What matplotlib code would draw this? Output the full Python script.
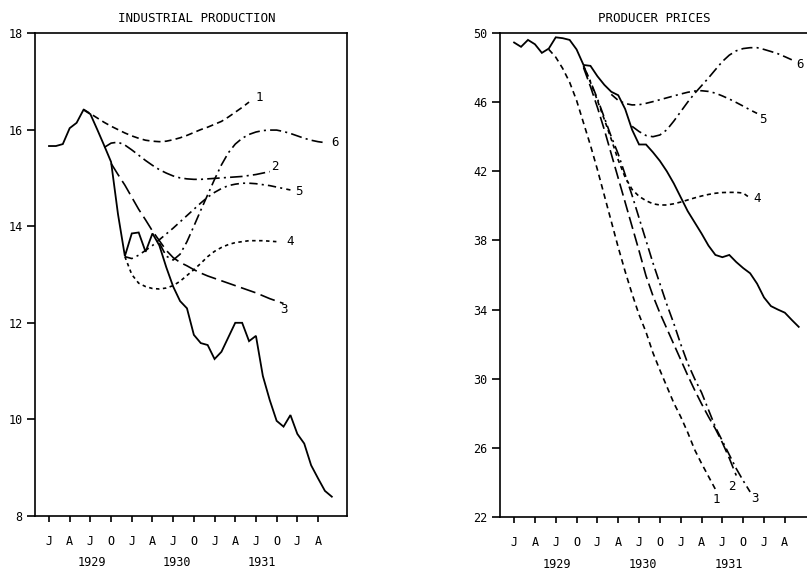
import numpy as np
import matplotlib
matplotlib.use('Agg')
import matplotlib.pyplot as plt

plt.rcParams['font.family'] = ['DejaVu Sans Mono']
plt.rcParams['lines.scale_dashes'] = False

# months counted from January 1929
month_labels = ['J', 'A', 'J', 'O'] * 4
year_labels = ['1929', '1930', '1931']

# industrial production, actual
ip_actual = [15.66, 15.66, 15.7, 16.03, 16.14, 16.41, 16.32, 16.0, 15.67, 15.33,
             14.25, 13.38, 13.85, 13.87, 13.47, 13.85, 13.6, 13.15, 12.75, 12.45,
             12.3, 11.75, 11.58, 11.54, 11.25, 11.4, 11.7, 12.0, 12.0, 11.62,
             11.73, 10.9, 10.4, 9.97, 9.85, 10.09, 9.7, 9.5, 9.05, 8.78,
             8.52, 8.4]

# industrial production, simulations (first month, values)
ip_start = [5, 8, 9, 11, 11, 16]
ip_sim1 = [16.42, 16.33, 16.24, 16.15, 16.07, 16.0, 15.93, 15.87, 15.82, 15.78,
           15.76, 15.75, 15.76, 15.79, 15.83, 15.88, 15.94, 16.0, 16.05, 16.11,
           16.17, 16.26, 16.36, 16.46, 16.57]
ip_sim2 = [15.63, 15.72, 15.74, 15.68, 15.58, 15.47, 15.36, 15.26, 15.17, 15.1,
           15.04, 15.0, 14.98, 14.97, 14.97, 14.98, 14.99, 15.0, 15.01, 15.02,
           15.03, 15.05, 15.07, 15.1, 15.13]
ip_sim3 = [15.3, 15.07, 14.85, 14.6, 14.35, 14.13, 13.9, 13.7, 13.5, 13.35,
           13.25, 13.18, 13.1, 13.03, 12.97, 12.92, 12.87, 12.82, 12.77, 12.72,
           12.67, 12.62, 12.56, 12.5, 12.45, 12.4]
ip_sim4 = [13.37, 13.0, 12.82, 12.75, 12.71, 12.7, 12.72, 12.77, 12.86, 12.98,
           13.1, 13.23, 13.37, 13.48, 13.56, 13.62, 13.66, 13.68, 13.7, 13.7,
           13.7, 13.69, 13.68]
ip_sim5 = [13.37, 13.33, 13.4, 13.5, 13.6, 13.72, 13.84, 13.96, 14.09, 14.22,
           14.35, 14.48, 14.6, 14.7, 14.78, 14.84, 14.87, 14.89, 14.89, 14.88,
           14.86, 14.84, 14.81, 14.78, 14.75]
ip_sim6 = [13.65, 13.38, 13.3, 13.42, 13.68, 14.0, 14.33, 14.65, 14.97, 15.27,
           15.52, 15.7, 15.82, 15.9, 15.95, 15.98, 15.99, 15.99, 15.96, 15.92,
           15.87, 15.82, 15.78, 15.75, 15.73]

# producer prices, actual
pp_actual = [49.45, 49.2, 49.6, 49.35, 48.85, 49.1, 49.75, 49.7, 49.6, 49.05,
             48.15, 48.1, 47.5, 47.0, 46.6, 46.4, 45.6, 44.4, 43.55, 43.55,
             43.1, 42.6, 42.0, 41.3, 40.5, 39.7, 39.05, 38.4, 37.7, 37.16,
             37.03, 37.16, 36.75, 36.4, 36.1, 35.5, 34.7, 34.2, 34.0, 33.82,
             33.4, 33.0]

# producer prices, simulations
pp_start = [5, 10, 10, 10, 14, 17]
pp_sim1 = [49.05, 48.6, 47.95, 47.15, 46.1, 44.8, 43.5, 42.1, 40.6, 39.1,
           37.6, 36.2, 34.9, 33.7, 32.7, 31.5, 30.5, 29.55, 28.6, 27.8,
           26.9, 25.9, 25.1, 24.35, 23.6]
pp_sim2 = [48.0, 46.9, 45.7, 44.4, 43.0, 41.6, 40.2, 38.8, 37.4, 35.95,
           34.8, 33.8, 32.9, 32.0, 31.1, 30.2, 29.35, 28.55, 27.8, 27.1,
           26.3, 25.4, 24.4]
pp_sim3 = [48.1, 47.2, 46.2, 45.1, 44.0, 43.0, 41.8, 40.6, 39.3, 38.0,
           36.7, 35.5, 34.3, 33.2, 32.0, 30.9, 30.0, 29.2, 28.2, 27.2,
           26.4, 25.6, 24.8, 24.1, 23.45]
pp_sim4 = [48.1, 47.15, 46.1, 45.0, 43.85, 42.65, 41.65, 40.95, 40.55, 40.3,
           40.12, 40.05, 40.05, 40.12, 40.22, 40.34, 40.46, 40.57, 40.66, 40.73,
           40.77, 40.78, 40.78, 40.74, 40.45]
pp_sim5 = [46.45, 46.1, 45.92, 45.84, 45.85, 45.93, 46.03, 46.14, 46.25, 46.36,
           46.47, 46.57, 46.64, 46.66, 46.62, 46.52, 46.36, 46.18, 45.98, 45.77,
           45.55, 45.35]
pp_sim6 = [44.6, 44.3, 44.07, 44.0, 44.1, 44.4, 44.9, 45.45, 46.0, 46.5,
           46.95, 47.4, 47.88, 48.35, 48.72, 48.97, 49.1, 49.15, 49.15, 49.05,
           48.93, 48.8, 48.63, 48.45]

# line styles (dash lengths in points)
ip_styles = [(0, (5, 3)), (0, (9, 3, 1.5, 3)), (0, (11, 4)),
             (0, (2.5, 2.5)), (0, (6, 3, 1.5, 3)), (0, (8, 3, 1.5, 3))]
pp_styles = [(0, (4, 3)), (0, (9, 3.5)), (0, (8, 3, 1.5, 3)),
             (0, (3, 2.5)), (0, (6, 3, 1.5, 3)), (0, (8, 3, 1.5, 3))]
# label offsets from the end of each curve, pixels
ip_offsets = [(10, 5), (5, 5), (0, -6), (13, 0), (8, -2), (10, 0)]
pp_offsets = [(1, -10), (-4, -11), (5, -7), (7, 0), (6, -6), (8, -5)]


def draw_panel(ax, title, title_x, actual, starts, sims, styles, offsets,
               ylim, yticks):
    m = np.arange(len(actual))
    ax.plot(m, actual, color='black', lw=1.3, solid_joinstyle='miter')
    for i, (s, vals) in enumerate(zip(starts, sims)):
        mm = np.arange(s, s + len(vals))
        ax.plot(mm, vals, color='black', lw=1.2, linestyle=styles[i])
        ax.annotate(str(i + 1), xy=(mm[-1], vals[-1]), xytext=offsets[i],
                    textcoords='offset pixels', ha='center', va='center',
                    fontsize=9)

    ax.set_xlim(-2.03, 43.2)
    ax.set_ylim(*ylim)
    ax.set_yticks(yticks)
    ax.set_yticklabels([str(v) for v in yticks], fontsize=8.5)
    ax.tick_params(axis='y', direction='out', length=6, width=1.2, pad=3)

    quarters = np.arange(0, 40, 3)
    ax.set_xticks(quarters)
    ax.set_xticklabels(month_labels[:len(quarters)], fontsize=8.5)
    ax.set_xticks(np.arange(0, 40, 12), minor=True)
    ax.tick_params(axis='x', which='major', direction='out', length=4.5,
                   width=1.2, pad=9)
    ax.tick_params(axis='x', which='minor', direction='out', length=11.5,
                   width=1.2)
    for i, yl in enumerate(year_labels):
        ax.annotate(yl, xy=(6.2 + 12.35 * i, 0), xycoords=('data', 'axes fraction'),
                    xytext=(0, -47), textcoords='offset pixels',
                    ha='center', va='center', fontsize=8.5)

    for sp in ax.spines.values():
        sp.set_linewidth(1.2)
    ax.set_title(title, fontsize=9, x=title_x, pad=8)


fig = plt.figure(figsize=(8.07, 5.70), dpi=100)
ax1 = fig.add_axes([35 / 807, 54 / 570, 312 / 807, 483 / 570])
ax2 = fig.add_axes([500 / 807, 53 / 570, 314 / 807, 484 / 570])

draw_panel(ax1, 'INDUSTRIAL PRODUCTION', 0.518, ip_actual, ip_start,
           [ip_sim1, ip_sim2, ip_sim3, ip_sim4, ip_sim5, ip_sim6],
           ip_styles, ip_offsets, (8, 18), np.arange(8, 19, 2))
draw_panel(ax2, 'PRODUCER PRICES', 0.49, pp_actual, pp_start,
           [pp_sim1, pp_sim2, pp_sim3, pp_sim4, pp_sim5, pp_sim6],
           pp_styles, pp_offsets, (22, 50), np.arange(22, 51, 4))
# the right panel runs off the edge of the page
ax2.spines['right'].set_visible(False)

plt.savefig('out.png', dpi=100)
